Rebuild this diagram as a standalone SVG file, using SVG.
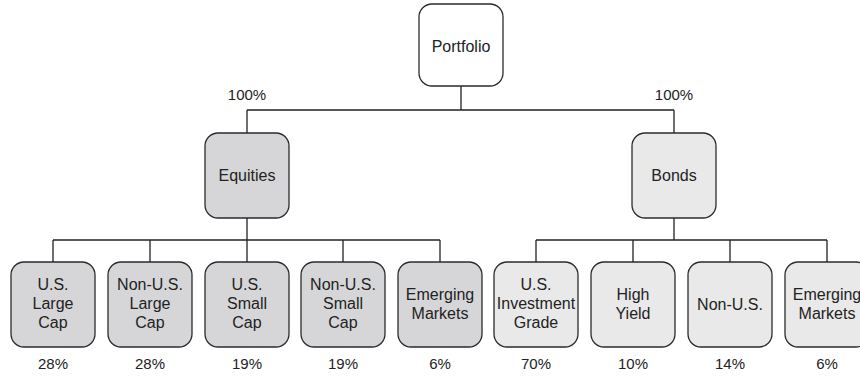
<svg xmlns="http://www.w3.org/2000/svg" width="860" height="376" viewBox="0 0 860 376">
  <style>
    .box { stroke: #2b2b2b; stroke-width: 1.3; }
    .root { fill: #ffffff; }
    .eq { fill: #d6d6d8; }
    .bd { fill: #e9e9e9; }
    .lbl { font-family: "Liberation Sans", Arial, sans-serif; font-size: 16px; fill: #222; text-anchor: middle; }
    .pct { font-family: "Liberation Sans", Arial, sans-serif; font-size: 15px; fill: #222; text-anchor: middle; }
    .wire { fill: none; stroke: #222; stroke-width: 1.3; }
  </style>
  <rect width="860" height="376" fill="#ffffff"/>

  <g id="connectors">
    <path class="wire" d="M461 86 V110 M247 110 H674 M247 110 V133 M674 110 V133"/>
    <path class="wire" d="M247 218 V262 M53 240 H440 M53 240 V262 M150 240 V262 M343 240 V262 M440 240 V262"/>
    <path class="wire" d="M674 218 V240 M536 240 H827 M536 240 V262 M633 240 V262 M730 240 V262 M827 240 V262"/>
  </g>

  <g id="portfolio">
    <rect class="box root" x="419" y="4" width="84" height="82" rx="13"/>
    <text class="lbl" x="461" y="52">Portfolio</text>
  </g>

  <g id="equities">
    <text class="pct" x="247" y="100">100%</text>
    <rect class="box eq" x="205" y="133" width="84" height="85" rx="13"/>
    <text class="lbl" x="247" y="181">Equities</text>
  </g>

  <g id="bonds">
    <text class="pct" x="674" y="100">100%</text>
    <rect class="box bd" x="632" y="133" width="84" height="85" rx="13"/>
    <text class="lbl" x="674" y="181">Bonds</text>
  </g>

  <g id="us-large-cap">
    <rect class="box eq" x="11" y="262" width="84" height="85" rx="13"/>
    <text class="lbl" x="53" y="290">U.S.</text>
    <text class="lbl" x="53" y="309">Large</text>
    <text class="lbl" x="53" y="328">Cap</text>
    <text class="pct" x="53" y="369">28%</text>
  </g>

  <g id="non-us-large-cap">
    <rect class="box eq" x="108" y="262" width="84" height="85" rx="13"/>
    <text class="lbl" x="150" y="290">Non-U.S.</text>
    <text class="lbl" x="150" y="309">Large</text>
    <text class="lbl" x="150" y="328">Cap</text>
    <text class="pct" x="150" y="369">28%</text>
  </g>

  <g id="us-small-cap">
    <rect class="box eq" x="205" y="262" width="84" height="85" rx="13"/>
    <text class="lbl" x="247" y="290">U.S.</text>
    <text class="lbl" x="247" y="309">Small</text>
    <text class="lbl" x="247" y="328">Cap</text>
    <text class="pct" x="247" y="369">19%</text>
  </g>

  <g id="non-us-small-cap">
    <rect class="box eq" x="301" y="262" width="84" height="85" rx="13"/>
    <text class="lbl" x="343" y="290">Non-U.S.</text>
    <text class="lbl" x="343" y="309">Small</text>
    <text class="lbl" x="343" y="328">Cap</text>
    <text class="pct" x="343" y="369">19%</text>
  </g>

  <g id="equity-emerging-markets">
    <rect class="box eq" x="398" y="262" width="84" height="85" rx="13"/>
    <text class="lbl" x="440" y="300">Emerging</text>
    <text class="lbl" x="440" y="319">Markets</text>
    <text class="pct" x="440" y="369">6%</text>
  </g>

  <g id="us-investment-grade">
    <rect class="box bd" x="494" y="262" width="84" height="85" rx="13"/>
    <text class="lbl" x="536" y="290">U.S.</text>
    <text class="lbl" x="536" y="309">Investment</text>
    <text class="lbl" x="536" y="328">Grade</text>
    <text class="pct" x="536" y="369">70%</text>
  </g>

  <g id="high-yield">
    <rect class="box bd" x="591" y="262" width="84" height="85" rx="13"/>
    <text class="lbl" x="633" y="300">High</text>
    <text class="lbl" x="633" y="319">Yield</text>
    <text class="pct" x="633" y="369">10%</text>
  </g>

  <g id="non-us-bonds">
    <rect class="box bd" x="688" y="262" width="84" height="85" rx="13"/>
    <text class="lbl" x="730" y="310">Non-U.S.</text>
    <text class="pct" x="730" y="369">14%</text>
  </g>

  <g id="bond-emerging-markets">
    <rect class="box bd" x="785" y="262" width="84" height="85" rx="13"/>
    <text class="lbl" x="827" y="300">Emerging</text>
    <text class="lbl" x="827" y="319">Markets</text>
    <text class="pct" x="827" y="369">6%</text>
  </g>
</svg>
